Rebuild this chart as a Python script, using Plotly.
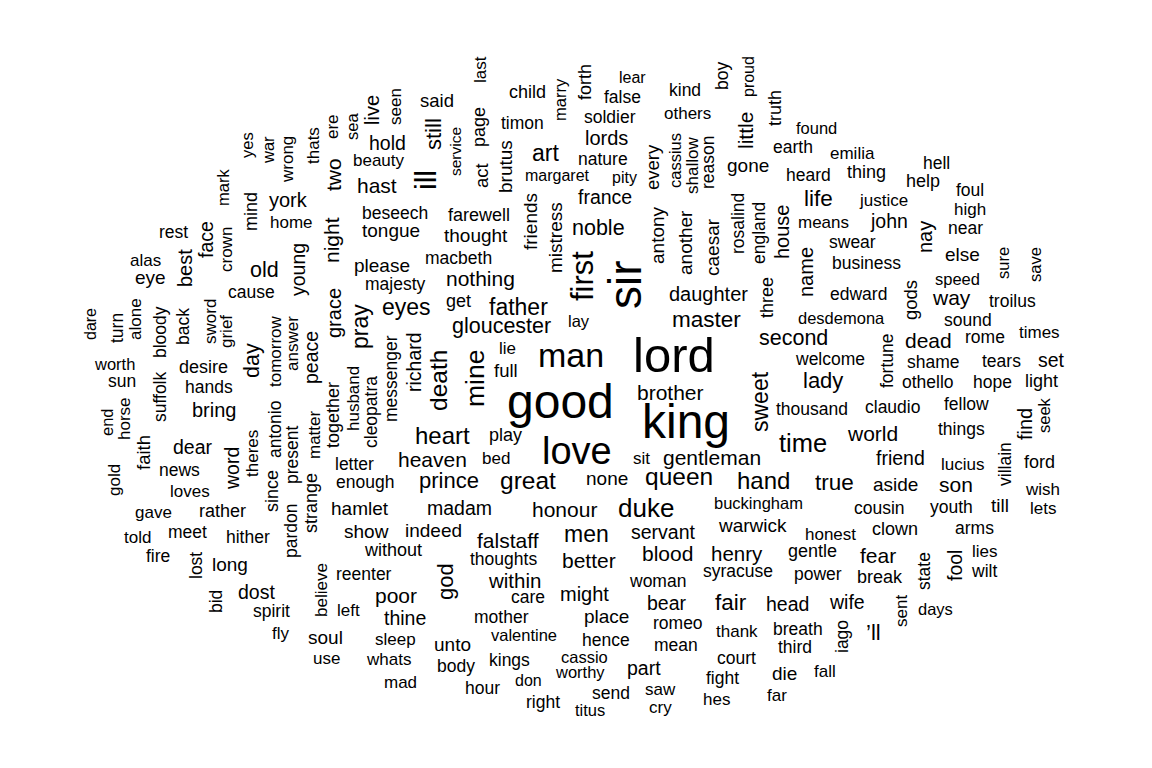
import plotly.graph_objects as go

# Word cloud data: words, relative weight (maps to font size), layout placement, orientation
words = [
 "last","child","marry","forth","lear","false","kind","boy","proud","truth",
 "said","page","timon","soldier","others","little","found","live","seen","still",
 "service","brutus","art","lords","nature","cassius","shallow","reason","earth","emilia",
 "hell","yes","war","wrong","thats","ere","sea","hold","beauty","ill",
 "act","margaret","pity","every","gone","heard","thing","help","foul","mark",
 "mind","york","two","hast","france","life","justice","high","rest","face",
 "crown","home","beseech","farewell","friends","noble","antony","another","caesar","rosalind",
 "england","house","means","john","nay","near","tongue","thought","mistress","swear",
 "else","alas","eye","best","old","young","night","please","macbeth","first",
 "name","business","sure","save","cause","majesty","nothing","sir","daughter","three",
 "edward","gods","way","speed","troilus","dare","turn","alone","bloody","back",
 "sword","grief","grace","get","father","lay","master","desdemona","sound","times",
 "rome","pray","eyes","gloucester","second","dead","worth","desire","tomorrow","answer",
 "peace","messenger","richard","death","mine","man","lord","welcome","fortune","shame",
 "tears","set","sun","day","lie","full","brother","lady","othello","hope",
 "light","suffolk","hands","husband","cleopatra","sweet","thousand","claudio","fellow","end",
 "horse","bring","together","good","king","seek","find","heart","play","time",
 "world","things","faith","dear","word","theres","antonio","present","matter","letter",
 "heaven","bed","love","sit","gentleman","friend","lucius","villain","ford","gold",
 "news","since","enough","prince","great","none","queen","hand","true","aside",
 "son","wish","loves","strange","hamlet","madam","honour","duke","buckingham","cousin",
 "youth","till","lets","gave","rather","pardon","show","indeed","men","servant",
 "warwick","honest","clown","arms","told","meet","hither","without","falstaff","blood",
 "henry","gentle","fear","lies","fire","long","reenter","thoughts","god","within",
 "better","syracuse","power","break","state","fool","wilt","lost","dost","believe",
 "poor","care","might","woman","bear","fair","head","wife","bid","spirit",
 "left","thine","mother","place","romeo","thank","breath","sent","days","fly",
 "soul","sleep","unto","valentine","hence","mean","third","iago","\u2019ll","use",
 "whats","body","kings","cassio","court","mad","don","part","worthy","die",
 "fall","hour","fight","saw","send","hes","far","right","cry","titus",
]

weight = [
 17,18,16.5,18,16,17.5,17.5,17.5,16,18,
 18.5,18,17.5,17.5,17,21,16.5,20,17,22,
 15.5,19,23,20,17.5,16.5,17,17.5,17.5,17,
 17.5,16.5,16.5,17,17,17,16.5,19.5,17,30,
 18.5,16,16,18.5,19,17.5,18,18,17.5,16.5,
 18,20,21,21,19.5,22.5,17,17,17.5,19.5,
 17,17,17.5,18,19,21.5,19,19,19,17.5,
 17.5,20,17,19.5,20,17.5,19,19,19,17.5,
 19,17,19,20,21.5,19.5,21,19,17.5,31,
 20,17.5,16.5,16.5,17.5,17.5,21,46,20,18,
 17.5,18.5,21,16.5,17.5,16,17.5,17,17.5,17.5,
 17,17,20,18,23,16.5,22.5,16.5,17.5,17,
 17.5,23,23,21.5,21.5,21,16.5,18,17,17,
 19.5,17.5,19.5,24.5,26.5,34,49,17.5,17.5,17.5,
 17.5,19.5,17.5,21.5,17,18.5,21,22,17.5,17.5,
 18,17.5,17.5,17,17.5,23,17.5,17.5,17.5,16.5,
 17,20,18,48,48,16.5,20,24,18,25.5,
 21,17.5,18.5,19.5,19.5,17,17.5,17.5,17,17.5,
 21,17,38,17,21,19.5,17,17.5,18,17,
 17.5,18,17.5,22,24.5,19,24.5,24,22.5,19,
 21,17,17,18,19,19.5,21,26,16.5,17.5,
 17.5,19,17,17,18,17.5,19,19,23,19.5,
 19,17,18,17.5,17,17.5,17.5,18,21,21,
 20.5,18,21,17,17.5,19,17.5,17.5,22,20.5,
 21,17.5,17.5,18,17.5,19.5,17.5,17.5,19.5,17,
 21,17.5,20,17.5,19.5,22.5,19.5,19.5,17.5,17.5,
 17,19.5,17.5,19,17.5,17,17.5,17,16.5,17,
 19,17,19,16.5,17.5,17.5,17.5,17.5,22,17,
 17,17.5,17.5,16.5,17.5,17,16,19.5,16.5,19,
 17,17.5,17.5,17,17.5,17,17,17.5,17,16.5,
]

place_x = [
 480,527,560,585,632,622,685,722,748,775,
 437,479,522,610,687,745,816,372,395,433,
 455,505,545,606,603,675,692,708,793,852,
 936,247,268,287,313,332,352,387,379,425,
 481,557,624,652,748,808,866,923,970,223,
 251,288,333,377,605,818,883,970,173,206,
 226,291,395,479,530,598,657,685,712,738,
 759,782,823,889,925,965,391,476,555,852,
 962,145,150,185,264,298,331,382,458,582,
 806,866,1003,1035,251,395,480,625,708,767,
 858,910,951,957,1012,90,117,135,160,183,
 210,226,334,458,518,579,706,841,968,1039,
 985,360,406,501,793,928,114,203,275,292,
 311,391,414,438,475,571,674,830,887,933,
 1001,1051,122,252,507,506,670,823,928,992,
 1041,160,209,353,371,760,812,892,966,107,
 124,214,333,560,686,1044,1025,442,505,803,
 872,961,143,193,232,252,275,292,314,354,
 432,496,577,641,712,900,962,1005,1039,114,
 179,272,365,449,528,607,679,763,834,895,
 956,1042,190,311,360,459,564,646,758,879,
 951,1000,1043,153,222,291,366,433,586,663,
 752,830,895,974,137,187,248,393,508,667,
 737,812,878,985,158,230,364,503,445,514,
 589,738,818,880,924,955,984,196,256,321,
 396,528,584,657,667,731,787,847,216,271,
 348,405,501,606,678,737,798,901,935,281,
 325,395,452,524,606,676,795,842,873,326,
 388,456,509,584,736,400,528,644,580,784,
 825,482,722,660,611,716,777,543,660,590,
]

place_y = [
 70,92,100,82,77,97,90,76,77,108,
 100,127,123,117,113,131,128,110,107,134,
 152,167,153,138,159,161,166,162,147,153,
 163,145,150,160,146,127,127,143,160,180,
 176,175,177,167,165,175,172,181,190,188,
 212,200,175,185,197,198,200,209,232,240,
 250,222,213,215,222,228,235,243,247,224,
 233,232,222,221,237,228,230,235,238,242,
 254,260,277,268,270,270,240,265,258,276,
 272,263,263,265,292,284,278,285,294,298,
 294,300,297,279,301,324,328,319,332,327,
 322,332,313,301,307,321,319,318,320,332,
 337,327,307,326,338,340,364,367,351,344,
 358,379,362,381,379,355,355,359,361,362,
 361,360,381,361,348,370,392,380,382,382,
 381,397,387,399,412,402,409,407,404,422,
 419,410,415,401,421,415,424,435,435,443,
 433,429,453,447,469,454,430,455,435,464,
 459,458,451,458,457,458,464,464,462,480,
 470,491,482,480,480,478,476,480,482,484,
 484,489,491,503,508,508,509,508,503,508,
 507,505,508,512,511,531,531,530,534,532,
 525,534,529,528,537,532,537,550,540,553,
 553,551,555,551,556,564,574,559,582,580,
 560,571,574,577,571,566,571,566,592,590,
 595,597,594,581,603,602,604,602,602,611,
 610,618,617,616,623,631,629,611,609,633,
 637,639,644,635,640,645,647,637,632,658,
 659,666,660,657,658,682,680,668,672,673,
 671,688,678,689,693,699,695,702,707,710,
]

vertical = [
 1,0,1,1,0,0,0,1,1,1,
 0,1,0,0,0,1,0,1,1,1,
 1,1,0,0,0,1,1,1,0,0,
 0,1,1,1,1,1,1,0,0,1,
 1,0,0,1,0,0,0,0,0,1,
 1,0,1,0,0,0,0,0,0,1,
 1,0,0,0,1,0,1,1,1,1,
 1,1,0,0,1,0,0,0,1,0,
 0,0,0,1,0,1,1,0,0,1,
 1,0,1,1,0,0,0,1,0,1,
 0,1,0,0,0,1,1,1,1,1,
 1,1,1,0,0,0,0,0,0,0,
 0,1,0,0,0,0,0,0,1,1,
 1,1,1,1,1,0,0,0,1,0,
 0,0,0,1,0,0,0,0,0,0,
 0,1,0,1,1,1,0,0,0,1,
 1,0,1,0,0,1,1,0,0,0,
 0,0,1,0,1,1,1,1,1,0,
 0,0,0,0,0,0,0,1,0,1,
 0,1,0,0,0,0,0,0,0,0,
 0,0,0,1,0,0,0,0,0,0,
 0,0,0,0,0,1,0,0,0,0,
 0,0,0,0,0,0,0,0,0,0,
 0,0,0,0,0,0,0,0,1,0,
 0,0,0,0,1,1,0,1,0,1,
 0,0,0,0,0,0,0,0,1,0,
 0,0,0,0,0,0,0,1,0,0,
 0,0,0,0,0,0,0,1,0,0,
 0,0,0,0,0,0,0,0,0,0,
 0,0,0,0,0,0,0,0,0,0,
]

assert len(words) == len(weight) == len(place_x) == len(place_y) == len(vertical)

W, H = 1152, 768
PAGE_OFFSET = 8  # default body margin of the html page


def font_px(w):
    # linear scale from weight to pixel font size
    return 1.0 * w


annotations = []
for wd, wt, x, y, v in zip(words, weight, place_x, place_y, vertical):
    annotations.append(dict(
        x=x, y=y, xref="x", yref="y", text=wd, showarrow=False,
        xanchor="center", yanchor="middle",
        textangle=-90 if v else 0,
        font=dict(family="Liberation Sans, Arial, Helvetica, sans-serif",
                  size=font_px(wt), color="black"),
    ))

fig = go.Figure()
fig.add_trace(go.Scatter(x=[PAGE_OFFSET, W], y=[PAGE_OFFSET, H], mode="markers",
                         marker=dict(opacity=0), hoverinfo="skip", showlegend=False))
fig.update_layout(
    width=W, height=H,
    margin=dict(l=0, r=0, t=0, b=0),
    paper_bgcolor="white", plot_bgcolor="white",
    xaxis=dict(range=[PAGE_OFFSET, W + PAGE_OFFSET], visible=False, fixedrange=True),
    yaxis=dict(range=[H + PAGE_OFFSET, PAGE_OFFSET], visible=False, fixedrange=True),
    annotations=annotations,
    showlegend=False,
)
fig.write_html("out.html", config={"displayModeBar": False})
